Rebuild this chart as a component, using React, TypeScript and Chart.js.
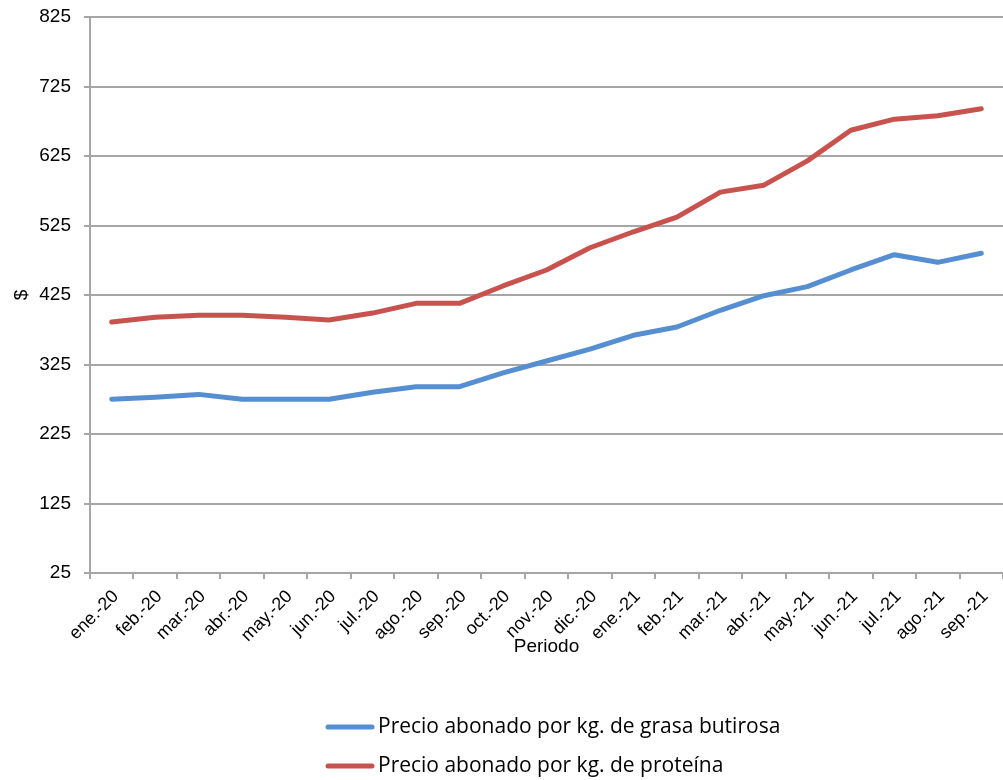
import React, { useEffect, useRef } from "react";
import { Chart, registerables } from "chart.js";

Chart.register(...registerables);

const categories = [
  "ene.-20", "feb.-20", "mar.-20", "abr.-20", "may.-20", "jun.-20", "jul.-20",
  "ago.-20", "sep.-20", "oct.-20", "nov.-20", "dic.-20", "ene.-21", "feb.-21",
  "mar.-21", "abr.-21", "may.-21", "jun.-21", "jul.-21", "ago.-21", "sep.-21",
];

const grasaLabel = "Precio abonado por kg. de grasa butirosa";
const proteinaLabel = "Precio abonado por kg. de proteína";

const grasaValues = [275, 278, 282, 275, 275, 275, 285, 293, 293, 313, 330, 347, 367, 379, 403, 424, 437, 461, 483, 472, 485];
const proteinaValues = [386, 393, 396, 396, 393, 389, 399, 413, 413, 438, 461, 493, 516, 537, 573, 583, 618, 662, 678, 683, 693];

const yMin = 25;
const yMax = 825;
const yStep = 100;

const BLUE = "#568ed2";
const RED = "#c8534e";
const GRID = "#a6a6a6";
const FONT = "'Liberation Sans', Arial, sans-serif";

const legendPlugin = {
  id: "customLegend",
  afterDraw(chart: any) {
    const ctx = chart.ctx;
    const items = [
      { label: grasaLabel, color: BLUE, y: 727 },
      { label: proteinaLabel, color: RED, y: 766 },
    ];
    ctx.save();
    ctx.font = "21px 'Open Sans', 'Noto Sans', sans-serif";
    ctx.textBaseline = "middle";
    ctx.textAlign = "left";
    for (const it of items) {
      ctx.strokeStyle = it.color;
      ctx.lineWidth = 5;
      ctx.lineCap = "round";
      ctx.beginPath();
      ctx.moveTo(328, it.y);
      ctx.lineTo(372, it.y);
      ctx.stroke();
      ctx.fillStyle = "#000";
      ctx.fillText(it.label, 378, it.y);
    }
    ctx.restore();
  },
};

export default function App() {
  const ref = useRef<HTMLCanvasElement>(null);
  useEffect(() => {
    if (!ref.current) return;
    const lineStyle = {
      borderWidth: 5,
      pointRadius: 0,
      tension: 0,
      borderCapStyle: "round" as const,
      borderJoinStyle: "round" as const,
    };
    const chart = new Chart(ref.current, {
      type: "line",
      data: {
        labels: categories,
        datasets: [
          { label: grasaLabel, data: grasaValues, borderColor: BLUE, backgroundColor: BLUE, ...lineStyle },
          { label: proteinaLabel, data: proteinaValues, borderColor: RED, backgroundColor: RED, ...lineStyle },
        ],
      },
      options: {
        responsive: false,
        animation: false,
        layout: { padding: { left: 6, right: 0, top: 17, bottom: 118 } },
        plugins: {
          legend: { display: false },
          tooltip: { enabled: false },
        },
        scales: {
          x: {
            offset: true,
            grid: {
              offset: true,
              drawOnChartArea: false,
              drawTicks: true,
              tickLength: 6,
              color: GRID,
              lineWidth: 2,
            },
            border: { color: GRID, width: 2 },
            ticks: {
              autoSkip: false,
              maxRotation: 45,
              minRotation: 45,
              padding: 7,
              labelOffset: 4,
              color: "#000",
              font: { family: FONT, size: 18 },
            },
            title: {
              display: true,
              text: "Periodo",
              color: "#000",
              font: { family: FONT, size: 19 },
            },
            afterFit(scale: any) {
              scale.height = 89;
              scale.paddingLeft = 0;
              scale.paddingRight = 0;
            },
          },
          y: {
            min: yMin,
            max: yMax,
            grid: {
              color: GRID,
              lineWidth: 2,
              tickLength: 6,
            },
            border: { color: GRID, width: 2 },
            ticks: {
              stepSize: yStep,
              padding: 13,
              color: "#000",
              font: { family: FONT, size: 19 },
            },
            title: {
              display: true,
              text: "$",
              color: "#000",
              font: { family: FONT, size: 19 },
            },
            afterFit(scale: any) {
              scale.width = 84;
              scale.paddingTop = 0;
              scale.paddingBottom = 0;
            },
          },
        },
      },
      plugins: [legendPlugin],
    });
    return () => chart.destroy();
  }, []);
  return (
    <div style={{ position: "absolute", left: 0, top: 0, width: 1003, height: 780, background: "#fff" }}>
      <canvas ref={ref} width={1003} height={780} />
    </div>
  );
}
